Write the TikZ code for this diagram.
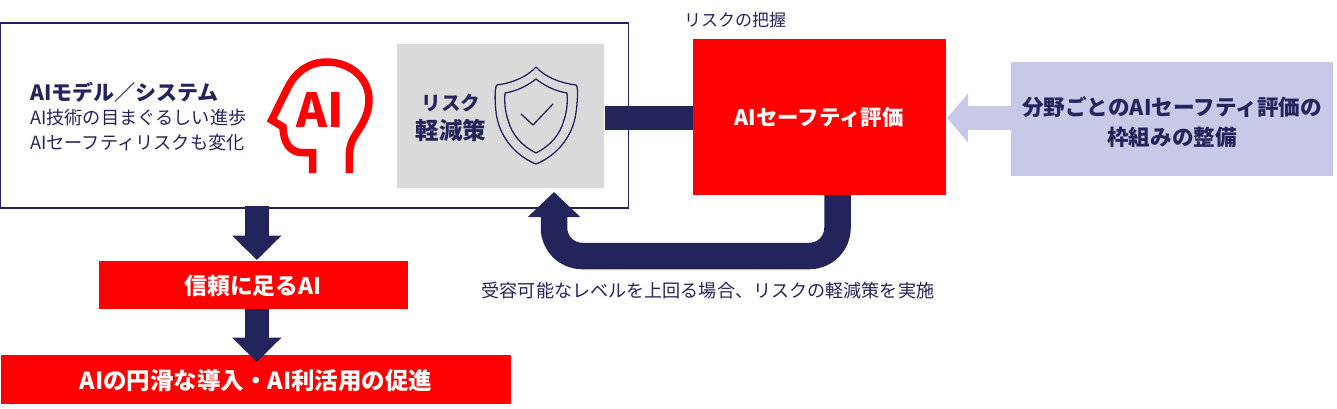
\documentclass[tikz,border=0pt]{standalone}
\usepackage{fontspec}
\setmainfont{Noto Sans CJK JP}
\usetikzlibrary{arrows.meta}
\definecolor{navy}{HTML}{24245C}
\definecolor{lav}{HTML}{C8C8E8}
\definecolor{panel}{HTML}{DADADA}
\definecolor{redbox}{HTML}{FF0000}
\tikzset{
 redblock/.style={fill=redbox,draw=none,inner sep=0pt,outer sep=0pt,minimum width=#1,anchor=north west},
 whitetext/.style={text=white,inner sep=0pt,font=\bfseries\fontsize{#1}{24}\selectfont},
 navytext/.style={text=navy,inner sep=0pt,align=left},
 blockarrow/.style={draw=navy,line width=24pt,-{Triangle[length=24.5pt,width=48pt]}},
 iconline/.style={draw=navy,line width=1.3pt,line join=round,line cap=round},
 headline/.style={draw=redbox,line width=7.5pt,line join=miter},
}
\begin{document}
\begin{tikzpicture}[x=1pt,y=-1pt]
\useasboundingbox (0,0) rectangle (1337,409);
% boxes
\node[draw=navy,line width=1.2pt,outer sep=0pt,minimum width=628pt,minimum height=185pt,inner sep=0pt,anchor=north west] (sys) at (0.5,23) {};
\node[fill=panel,draw=white!90!panel,line width=.8pt,outer sep=0pt,minimum width=208pt,minimum height=145pt,inner sep=0pt,anchor=north west] (panel) at (396,43) {};
\node[redblock=253pt,minimum height=156pt] (eval) at (693,39) {};
\node[redblock=309pt,minimum height=48pt] (trust) at (99,261) {};
\node[redblock=510pt,minimum height=49pt] (promo) at (1,355) {};
\node[fill=lav,minimum width=322pt,minimum height=114pt,inner sep=0pt,outer sep=0pt,anchor=north west] (frame) at (1011,62) {};
% box texts
\node[whitetext=21.4] (evalt) at (819,117) {AIセーフティ評価};
\node[whitetext=22.8] (trustt) at (253,286) {信頼に足るAI};
\node[whitetext=23.5] (promot) at (256,381) {AIの円滑な導入・AI利活用の促進};
\node[text=navy,font=\bfseries\fontsize{21.6}{30}\selectfont,align=center,inner sep=0pt] (framet) at (1172,122) {分野ごとのAIセーフティ評価の\\枠組みの整備};
\node[navytext,anchor=west,font=\bfseries\fontsize{21}{24}\selectfont] (syst) at (30,92) {AIモデル／システム};
\node[navytext,anchor=west,font=\fontsize{18.2}{25}\selectfont] (sysd) at (30,130.5) {AI技術の目まぐるしい進歩\\AIセーフティリスクも変化};
\node[navytext,font=\bfseries\fontsize{19.5}{24}\selectfont] (mit1) at (451,103) {リスク};
\node[navytext,font=\bfseries\fontsize{23.5}{24}\selectfont] (mit2) at (451,130) {軽減策};
\node[navytext,font=\fontsize{17}{20}\selectfont] (risk) at (735,20) {リスクの把握};
\node[navytext,font=\fontsize{18.1}{22}\selectfont] (cond) at (708,291) {受容可能なレベルを上回る場合、リスクの軽減策を実施};
% connectors
\coordinate (barA) at (605,118);
\coordinate (barB) at (693,118);
\draw[navy,line width=24pt] (barA) -- (barB);
\coordinate (a1s) at (256.8,206);
\coordinate (a1e) at (256.8,260);
\draw[blockarrow] (a1s) -- (a1e);
\coordinate (a2s) at (256.8,309);
\coordinate (a2e) at (256.8,362);
\draw[blockarrow] (a2s) -- (a2e);
\coordinate (a3s) at (1011,118);
\coordinate (a3e) at (947,118);
\draw[draw=lav,line width=24pt,-{Triangle[length=21pt,width=48pt]}] (a3s) -- (a3e);
\coordinate (us) at (837.5,195);
\coordinate (uc1) at (837.5,256);
\coordinate (uc2) at (554,256);
\coordinate (ue) at (554,192);
\draw[draw=navy,line width=26.5pt,rounded corners=28pt,-{Triangle[length=25pt,width=51pt]}] (us) -- (uc1) -- (uc2) -- (ue);
% head icon
\draw[headline] (312.5,173) -- (312.5,152.7) -- (303.3,152.7) .. controls (290,152.7) and (283.5,143) .. (283,127)
 -- (271.7,120) -- (288.3,86.7) .. controls (297,70) and (311,62) .. (326.7,62)
 .. controls (350,62) and (369,78) .. (369,100) .. controls (369,114) and (362,125) .. (356,134)
 .. controls (350,143) and (349.3,150) .. (349.3,157) -- (349.3,173);
\node[text=redbox,font=\bfseries\fontsize{47}{47}\selectfont,inner sep=0pt] (ai) at (320,109.5) {AI};
% shield icon
\draw[iconline] (536,67) .. controls (545,77) and (560,83) .. (576,85)
 .. controls (579,86) and (577,110) .. (575,118) .. controls (571,138) and (556,156) .. (536,164)
 .. controls (516,156) and (501,138) .. (497,118) .. controls (495,110) and (494,86) .. (497,85)
 .. controls (512,83) and (527,77) .. (536,67) -- cycle;
\draw[iconline] (536,79) .. controls (545,86) and (555,91) .. (567,93)
 .. controls (568,105) and (566,114) .. (564,120) .. controls (560,135) and (550,146) .. (536,153)
 .. controls (522,146) and (512,135) .. (508,120) .. controls (506,114) and (504,105) .. (505,93)
 .. controls (517,91) and (527,86) .. (536,79) -- cycle;
\draw[iconline] (521,114) -- (533,125) -- (553,104);
\end{tikzpicture}
\end{document}
